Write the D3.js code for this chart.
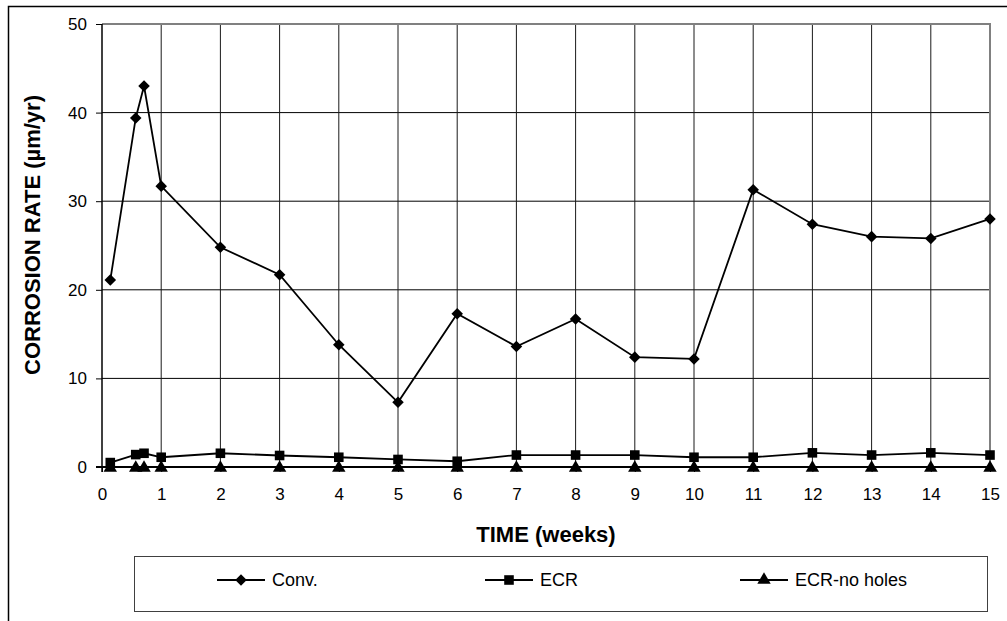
<!DOCTYPE html>
<html><head><meta charset="utf-8">
<script src="https://cdn.jsdelivr.net/npm/d3@7"></script>
<style>
html,body{margin:0;padding:0;background:#fff;}
svg{display:block;font-family:Arial,"Liberation Sans",sans-serif;}
</style></head>
<body>
<svg id="chart" width="1007" height="621"></svg>
<script>
// ---- data ----
const weeks = [0.14, 0.57, 0.71, 1, 2, 3, 4, 5, 6, 7, 8, 9, 10, 11, 12, 13, 14, 15];
const conv = [21.1, 39.4, 43.0, 31.7, 24.8, 21.7, 13.8, 7.3, 17.3, 13.6, 16.7, 12.4, 12.2, 31.3, 27.4, 26.0, 25.8, 28.0];
const ecr = [0.5, 1.4, 1.55, 1.1, 1.55, 1.3, 1.1, 0.85, 0.65, 1.35, 1.35, 1.35, 1.1, 1.1, 1.6, 1.35, 1.6, 1.35];
const ecrNoHoles = [0, 0, 0, 0, 0, 0, 0, 0, 0, 0, 0, 0, 0, 0, 0, 0, 0, 0];
const xTicks = [0, 1, 2, 3, 4, 5, 6, 7, 8, 9, 10, 11, 12, 13, 14, 15];
const yTicks = [0, 10, 20, 30, 40, 50];
const seriesNames = ["Conv.", "ECR", "ECR-no holes"];
const xTitle = "TIME (weeks)";
const yTitle = "CORROSION RATE (µm/yr)";

const svg = d3.select("#chart");
const L = 102, R = 990, T = 24, B = 467;
const x = d3.scaleLinear().domain([0, 15]).range([L, R]);
const y = d3.scaleLinear().domain([0, 50]).range([B, T]);

// outer frame
svg.append("rect").attr("x", 8.5).attr("y", 6.5).attr("width", 1010).attr("height", 630)
  .attr("fill", "none").attr("stroke", "#000").attr("stroke-width", 1.5);

// gridlines
const g = svg.append("g");
g.selectAll("line.hg").data(yTicks.filter(d => d > 0 && d < 50)).join("line")
  .attr("x1", L).attr("x2", R).attr("y1", d => y(d)).attr("y2", d => y(d))
  .attr("stroke", "#000").attr("stroke-width", 1);
g.selectAll("line.vg").data(xTicks.filter(d => d > 0 && d < 15)).join("line")
  .attr("y1", T).attr("y2", B).attr("x1", d => x(d)).attr("x2", d => x(d))
  .attr("stroke", "#1a1a1a").attr("stroke-width", 1);
// top and right border grey
g.append("line").attr("x1", L).attr("x2", R + 1).attr("y1", y(50)).attr("y2", y(50)).attr("stroke", "#808080").attr("stroke-width", 2);
g.append("line").attr("x1", R).attr("x2", R).attr("y1", T).attr("y2", B).attr("stroke", "#808080").attr("stroke-width", 2);

// axes
const yAxis = d3.axisLeft(y).tickValues(yTicks).tickSize(6).tickPadding(9).tickFormat(d3.format("d"));
const yg = svg.append("g").attr("transform", `translate(${L},0)`).call(yAxis);
const xAxis = d3.axisBottom(x).tickValues(xTicks).tickSize(5).tickPadding(16).tickFormat(d3.format("d"));
const xg = svg.append("g").attr("transform", `translate(0,${B})`).call(xAxis);
[yg, xg].forEach(a => {
  a.select(".domain").attr("stroke", "#000").attr("stroke-width", 1.5);
  a.selectAll(".tick line").attr("stroke", "#000");
  a.selectAll("text").attr("fill", "#000").attr("font-size", 17).attr("font-family", "Arial, 'Liberation Sans', sans-serif");
});
xg.select(".domain").attr("stroke-width", 2).attr("d", `M${L - 6},0H${R}`);
yg.select(".domain").attr("d", `M0,${T}V${B + 5}`);

// titles
svg.append("text").attr("x", (L + R) / 2).attr("y", 542).attr("text-anchor", "middle")
  .attr("font-size", 22).attr("font-weight", "bold").text(xTitle);
svg.append("text").attr("transform", "translate(40,235) rotate(-90)").attr("text-anchor", "middle")
  .attr("font-size", 22).attr("font-weight", "bold").text(yTitle);

// series
const series = [conv, ecr, ecrNoHoles];
const symbols = [d3.symbolDiamond2, d3.symbolSquare, d3.symbolTriangle];
const symSizes = [85, 92, 78];
const line = d3.line().x(d => x(d[0])).y(d => y(d[1]));
series.forEach((vals, i) => {
  const pts = weeks.map((w, j) => [w, vals[j]]);
  svg.append("path").datum(pts).attr("d", line).attr("fill", "none").attr("stroke", "#000").attr("stroke-width", 1.8);
  svg.selectAll(null).data(pts).join("path")
    .attr("d", d3.symbol().type(symbols[i]).size(symSizes[i]))
    .attr("transform", d => `translate(${x(d[0])},${y(d[1]) + (i === 2 ? 1 : 0)})`)
    .attr("fill", "#000");
});

// legend
const lg = svg.append("g");
lg.append("rect").attr("x", 134.5).attr("y", 556.5).attr("width", 853).attr("height", 55)
  .attr("fill", "#fff").attr("stroke", "#404040").attr("stroke-width", 1);
const legX = [217, 485, 740];
const legY = 580;
seriesNames.forEach((name, i) => {
  lg.append("line").attr("x1", legX[i]).attr("x2", legX[i] + 48).attr("y1", legY).attr("y2", legY)
    .attr("stroke", "#000").attr("stroke-width", 1.8);
  lg.append("path").attr("d", d3.symbol().type(symbols[i]).size(symSizes[i])())
    .attr("transform", `translate(${legX[i] + 24},${legY})`).attr("fill", "#000");
  lg.append("text").attr("x", legX[i] + 55).attr("y", legY + 6).attr("font-size", 18).text(name);
});
</script>
</body></html>
